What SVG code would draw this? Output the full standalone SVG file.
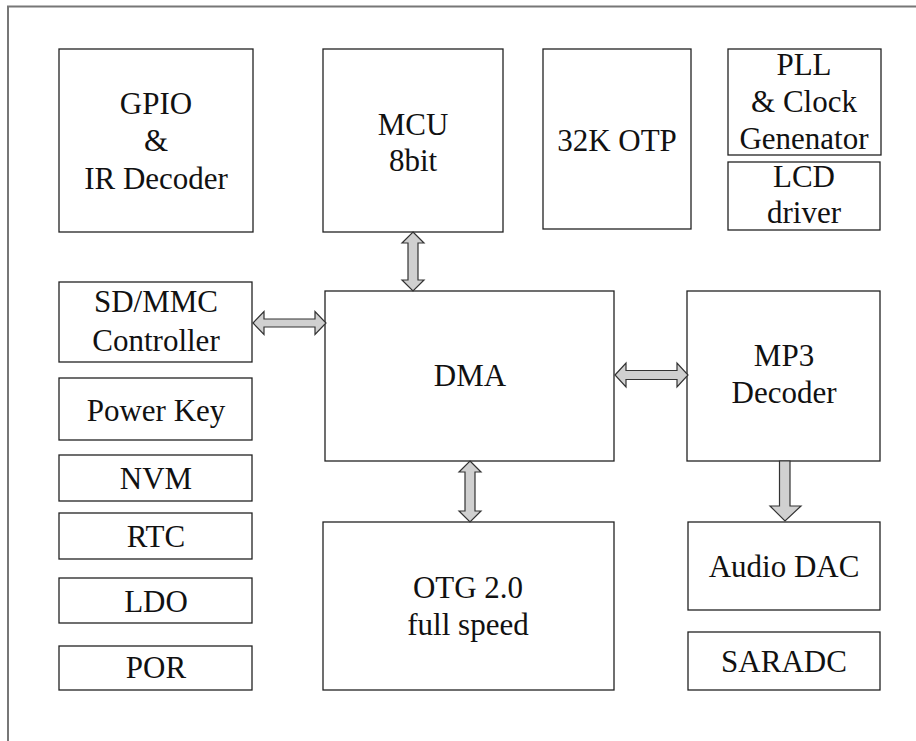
<svg xmlns="http://www.w3.org/2000/svg" width="916" height="741" viewBox="0 0 916 741">
<style>
.b{fill:#fff;stroke:#222;stroke-width:1.3}
.t{font-size:31px;fill:#111;text-anchor:middle}
.a{fill:#d0d0d0;stroke:#333;stroke-width:1.2;stroke-linejoin:miter}
.f{fill:none;stroke:#777;stroke-width:2}
</style>
<rect width="916" height="741" fill="#fff"/>
<path class="f" d="M8 741 V6.5 H916"/>
<g font-family="'Liberation Serif', 'DejaVu Serif', serif">
<g id="gpio"><rect class="b" x="59" y="49" width="194" height="183"/><text class="t" x="156" y="114">GPIO</text><text class="t" x="156" y="151">&amp;</text><text class="t" x="156" y="189">IR Decoder</text></g>
<g id="mcu"><rect class="b" x="323" y="49" width="180" height="183"/><text class="t" x="413" y="135">MCU</text><text class="t" x="413" y="171">8bit</text></g>
<g id="otp"><rect class="b" x="543" y="49" width="148" height="180"/><text class="t" x="617" y="151">32K OTP</text></g>
<g id="pll"><rect class="b" x="728" y="49" width="153" height="106"/><text class="t" x="804" y="75">PLL</text><text class="t" x="804" y="112">&amp; Clock</text><text class="t" x="804" y="149">Genenator</text></g>
<g id="lcd"><rect class="b" x="728" y="162" width="152" height="68"/><text class="t" x="804" y="187">LCD</text><text class="t" x="804" y="223">driver</text></g>
<g id="sdmmc"><rect class="b" x="59" y="282" width="193" height="80"/><text class="t" x="156" y="312">SD/MMC</text><text class="t" x="156" y="351">Controller</text></g>
<g id="dma"><rect class="b" x="325" y="291" width="289" height="170"/><text class="t" x="470" y="386">DMA</text></g>
<g id="mp3"><rect class="b" x="687" y="291" width="193" height="170"/><text class="t" x="784" y="366">MP3</text><text class="t" x="784" y="403">Decoder</text></g>
<g id="powerkey"><rect class="b" x="59" y="378" width="193" height="62"/><text class="t" x="156" y="421">Power Key</text></g>
<g id="nvm"><rect class="b" x="59" y="455" width="193" height="46"/><text class="t" x="156" y="489">NVM</text></g>
<g id="rtc"><rect class="b" x="59" y="513" width="193" height="46"/><text class="t" x="156" y="547">RTC</text></g>
<g id="ldo"><rect class="b" x="59" y="578" width="193" height="45"/><text class="t" x="156" y="612">LDO</text></g>
<g id="por"><rect class="b" x="59" y="646" width="193" height="44"/><text class="t" x="156" y="678">POR</text></g>
<g id="otg"><rect class="b" x="323" y="522" width="291" height="168"/><text class="t" x="468" y="598">OTG 2.0</text><text class="t" x="468" y="635">full speed</text></g>
<g id="audiodac"><rect class="b" x="688" y="522" width="192" height="88"/><text class="t" x="784" y="577">Audio DAC</text></g>
<g id="saradc"><rect class="b" x="688" y="632" width="192" height="58"/><text class="t" x="784" y="672">SARADC</text></g>
</g>
<g id="connectors">
<polygon class="a" points="413,232 424,243 418,243 418,280 424,280 413,291 402,280 408,280 408,243 402,243"/>
<polygon class="a" points="253,323 264,311.5 264,319 315,319 315,311.5 326,323 315,334.5 315,327 264,327 264,334.5"/>
<polygon class="a" points="615,375 626,363 626,370.5 677,370.5 677,363 688,375 677,387 677,379.5 626,379.5 626,387"/>
<polygon class="a" points="470,461 481,472 475,472 475,511 481,511 470,522 459,511 465,511 465,472 459,472"/>
<polygon class="a" points="779.5,461 790,461 790,506 801,506 785,521 770,506 779.5,506"/>
</g>
</svg>
